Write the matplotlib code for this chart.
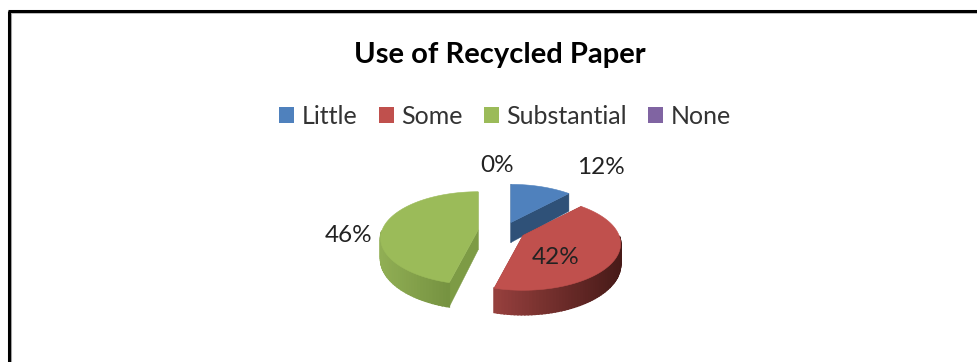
import numpy as np
import matplotlib
matplotlib.use("Agg")
import matplotlib.pyplot as plt
from matplotlib.patches import Polygon, Rectangle
from matplotlib.colors import to_rgb

title = "Use of Recycled Paper"
categories = ["Little", "Some", "Substantial", "None"]
values = [12, 42, 46, 0]
colors = ["#4F81BD", "#C0504D", "#9BBB59", "#8064A2"]
side_left = ["#2F5178", "#96403D", "#90AE54", "#5E4A78"]
side_right = ["#2F5178", "#471A18", "#6A8638", "#5E4A78"]
cut_colors = ["#2F5178", "#8C3A38", "#7D9B45", "#5E4A78"]
label_xy = [(601, 167), (556, 258), (349, 236), (497, 165)]

W, H = 977, 362
CX, CY = 502, 231
RX, RY = 96, 45
PERSP = 0.18
DEPTH = 20
EXPLODE = 24
K = 0.38

fig = plt.figure(figsize=(W / 100, H / 100), dpi=100)
ax = fig.add_axes([0, 0, 1, 1])
ax.set_xlim(0, W)
ax.set_ylim(H, 0)
ax.axis("off")

plt.rcParams["font.family"] = ["Lato", "DejaVu Sans"]


def rim(t, ox, oy, d=0):
    s = 1 / (1 + PERSP * np.cos(t))
    return ox + RX * np.sin(t) * s, oy - RY * np.cos(t) * s + d * s


total = sum(values)
edges = np.cumsum([0] + values) / total * 2 * np.pi
for i in [0, 2, 1]:
    a, b = edges[i], edges[i + 1]
    mid = (a + b) / 2
    ox = CX + EXPLODE * np.sin(mid)
    oy = CY - EXPLODE * K * np.cos(mid)
    ts = np.linspace(a, b, 90)
    xs, ys = rim(ts, ox, oy)
    xb, yb = rim(ts, ox, oy, DEPTH)
    # cut faces
    for j in (0, -1):
        ax.add_patch(Polygon([(ox, oy), (xs[j], ys[j]), (xb[j], yb[j]), (ox, oy + DEPTH)],
                             closed=True, fc=cut_colors[i], ec=cut_colors[i], lw=0.3, zorder=2))
    # outer wall with a horizontal gradient, front-facing part only
    c0, c1 = np.array(to_rgb(side_left[i])), np.array(to_rgb(side_right[i]))
    xmin, xmax = xs.min(), xs.max()
    for j in range(len(ts) - 1):
        if np.cos((ts[j] + ts[j + 1]) / 2) > -0.02:
            continue
        f = ((xs[j] + xs[j + 1]) / 2 - xmin) / (xmax - xmin)
        c = c0 + (c1 - c0) * f
        ax.add_patch(Polygon([(xs[j], ys[j]), (xs[j + 1], ys[j + 1]), (xb[j + 1], yb[j + 1]), (xb[j], yb[j])],
                             closed=True, fc=c, ec=c, lw=1.2, zorder=3))
    ax.add_patch(Polygon(np.vstack([[ox, oy], np.column_stack([xs, ys])]), closed=True,
                         fc=colors[i], ec=colors[i], lw=0.4, zorder=4))

for v, (x, y) in zip(values, label_xy):
    ax.text(x, y, f"{v}%", ha="center", va="center", fontsize=17.5, color="#222222", zorder=6)

ax.text(500, 55, title, ha="center", va="center", fontsize=21, fontweight="bold", color="black")

handles = [Rectangle((0, 0), 1, 1, fc=c, ec="none") for c in colors]
ax.legend(handles, categories, loc="center", bbox_to_anchor=(505 / W, 1 - 116 / H), ncol=4,
          frameon=False, fontsize=18, handlelength=0.6, handleheight=0.6, handletextpad=0.3,
          columnspacing=0.85, labelcolor="#333333")

# outer frame
ax.plot([8.5, 8.5], [H, 11], color="black", lw=2.2, solid_capstyle="butt", zorder=8)
ax.plot([7.5, W], [11, 11], color="black", lw=2.2, solid_capstyle="butt", zorder=8)
ax.plot([11, 11], [H, 13], color="#a6a6a6", lw=1.5, solid_capstyle="butt", zorder=7)
ax.plot([10, W], [13, 13], color="#b5b5b5", lw=1.2, solid_capstyle="butt", zorder=7)

fig.savefig("out.png", dpi=100)
